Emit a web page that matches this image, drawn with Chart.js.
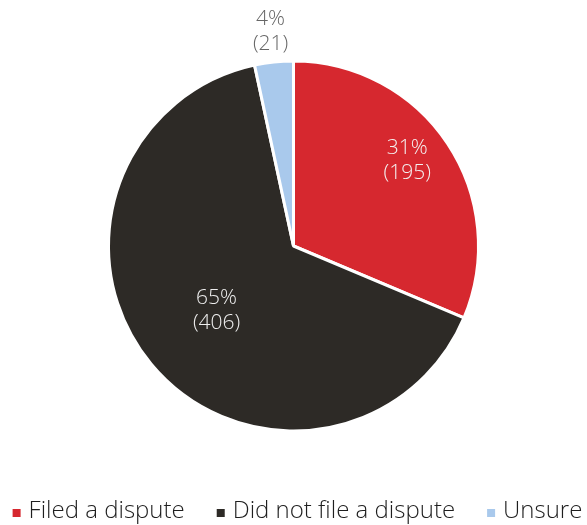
<!DOCTYPE html>
<html>
<head>
<meta charset="utf-8">
<script src="https://cdn.jsdelivr.net/npm/chart.js@4"></script>
<style>
  html, body { margin: 0; padding: 0; background: #fff; }
  #wrap { width: 587px; height: 525px; }
</style>
</head>
<body>
<div id="wrap"><canvas id="pieChart" width="587" height="525"></canvas></div>
<script>
const categories = ["Filed a dispute", "Did not file a dispute", "Unsure"];
const counts = [195, 406, 21];
const percents = [31, 65, 4];
const sliceColors = ["#d6282f", "#2d2a26", "#a9c9ec"];

// label placement: fraction of the radius plus a small turn (degrees) off the slice middle;
// the small slice gets its label outside
const labelRadius = [0.77, 0.54, 1.17];
const labelTurn = [-3.5, 0, 0];
const labelColors = ["#f4f0f0", "#eeeeee", "#666666"];

const sliceLabels = {
    id: "sliceLabels",
    afterDatasetsDraw(chart) {
        const ctx = chart.ctx;
        const meta = chart.getDatasetMeta(0);
        ctx.save();
        ctx.font = "300 21px 'Open Sans', sans-serif";
        ctx.textAlign = "center";
        ctx.textBaseline = "middle";
        meta.data.forEach((arc, i) => {
            const { x, y, startAngle, endAngle, outerRadius } = arc.getProps(["x", "y", "startAngle", "endAngle", "outerRadius"], true);
            const mid = (startAngle + endAngle) / 2 + labelTurn[i] * Math.PI / 180;
            const r = outerRadius * labelRadius[i];
            const lx = x + Math.cos(mid) * r;
            const ly = y + Math.sin(mid) * r;
            ctx.fillStyle = labelColors[i];
            ctx.fillText(percents[i] + "%", lx, ly - 12);
            ctx.fillText("(" + counts[i] + ")", lx, ly + 13);
        });
        ctx.restore();
    }
};

// single-row legend along the bottom (the built-in one wraps at this width)
const bottomLegend = {
    id: "bottomLegend",
    afterDraw(chart) {
        const ctx = chart.ctx;
        const box = 8, textGap = 8, itemGap = 32;
        const baseline = 518;
        ctx.save();
        ctx.font = "300 24px 'Open Sans', sans-serif";
        const widths = categories.map(c => box + textGap + ctx.measureText(c).width);
        const total = widths.reduce((a, b) => a + b, 0) + itemGap * (categories.length - 1);
        let x = (chart.width - total) / 2 + 4;
        ctx.textAlign = "left";
        ctx.textBaseline = "alphabetic";
        categories.forEach((c, i) => {
            ctx.fillStyle = sliceColors[i];
            ctx.fillRect(x, baseline - 9, box, box);
            ctx.fillStyle = "#1e1e1e";
            ctx.fillText(c, x + box + textGap, baseline);
            x += widths[i] + itemGap;
        });
        ctx.restore();
    }
};

new Chart(document.getElementById("pieChart").getContext("2d"), {
    type: "pie",
    data: {
        labels: categories,
        datasets: [{
            data: counts,
            backgroundColor: sliceColors,
            borderColor: "#ffffff",
            borderWidth: 3
        }]
    },
    options: {
        responsive: false,
        animation: false,
        radius: 185,
        layout: { padding: { top: 0, bottom: 33, left: 0, right: 0 } },
        plugins: {
            tooltip: { enabled: false },
            legend: { display: false }
        }
    },
    plugins: [sliceLabels, bottomLegend]
});
</script>
</body>
</html>
